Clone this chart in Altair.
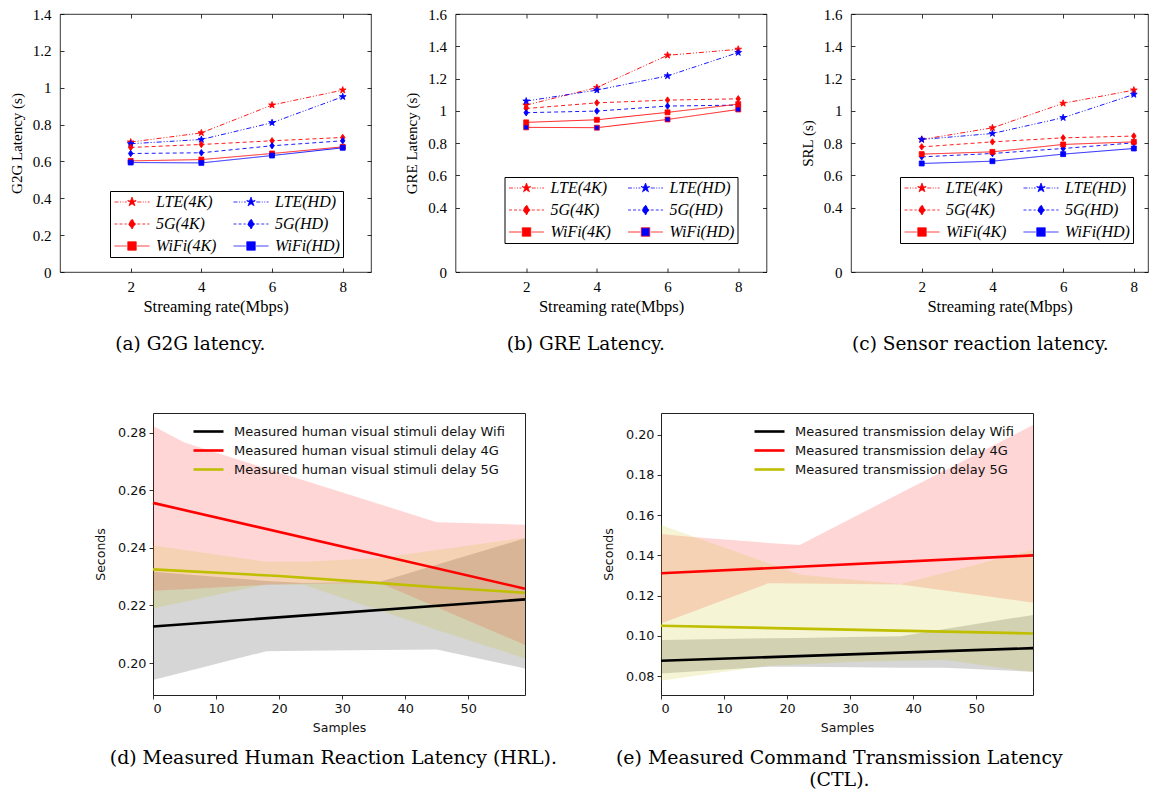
import altair as alt
import pandas as pd

# ---------------- data: top row (latency vs streaming rate) ----------------
rates = [2, 4, 6, 8]
series_names = ["LTE(4K)", "LTE(HD)", "5G(4K)", "5G(HD)", "WiFi(4K)", "WiFi(HD)"]
series_network = {"LTE(4K)": "LTE", "LTE(HD)": "LTE", "5G(4K)": "5G", "5G(HD)": "5G",
                  "WiFi(4K)": "WiFi", "WiFi(HD)": "WiFi"}
networks = ["LTE", "5G", "WiFi"]
# legend entries are filled column by column: 4K column first, HD column second
legend_order = ["LTE(4K)", "5G(4K)", "WiFi(4K)", "LTE(HD)", "5G(HD)", "WiFi(HD)"]

g2g_latency = {
    "LTE(4K)": [0.705, 0.755, 0.906, 0.987],
    "LTE(HD)": [0.696, 0.719, 0.810, 0.951],
    "5G(4K)": [0.676, 0.692, 0.712, 0.730],
    "5G(HD)": [0.643, 0.647, 0.685, 0.712],
    "WiFi(4K)": [0.603, 0.610, 0.643, 0.679],
    "WiFi(HD)": [0.594, 0.592, 0.632, 0.674],
}
gre_latency = {
    "LTE(4K)": [1.035, 1.144, 1.344, 1.381],
    "LTE(HD)": [1.060, 1.128, 1.216, 1.361],
    "5G(4K)": [1.014, 1.049, 1.066, 1.074],
    "5G(HD)": [0.988, 0.998, 1.029, 1.035],
    "WiFi(4K)": [0.928, 0.944, 0.990, 1.041],
    "WiFi(HD)": [0.897, 0.895, 0.946, 1.008],
}
srl_latency = {
    "LTE(4K)": [0.822, 0.894, 1.046, 1.128],
    "LTE(HD)": [0.822, 0.859, 0.957, 1.101],
    "5G(4K)": [0.776, 0.807, 0.832, 0.843],
    "5G(HD)": [0.714, 0.735, 0.766, 0.801],
    "WiFi(4K)": [0.731, 0.745, 0.791, 0.807],
    "WiFi(HD)": [0.673, 0.687, 0.731, 0.766],
}
yticks_a = [0, 0.2, 0.4, 0.6, 0.8, 1, 1.2, 1.4]
yticks_bc = [0, 0.4, 0.6, 0.8, 1, 1.2, 1.4, 1.6]

# ---------------- data: bottom row (measured delays vs samples) ----------------
band_keys = ["wifi", "4g", "5g"]
hrl_labels = ["Measured human visual stimuli delay Wifi",
              "Measured human visual stimuli delay 4G",
              "Measured human visual stimuli delay 5G"]
hrl_line_x = {"wifi": [0, 59], "4g": [0, 59], "5g": [0, 20, 35, 45, 59]}
hrl_line_y = {"wifi": [0.2127, 0.2221], "4g": [0.2556, 0.2258],
              "5g": [0.2325, 0.2302, 0.2279, 0.2263, 0.2244]}
hrl_band_x = [0, 5, 18, 24, 36, 45, 59]
hrl_wifi_lo = [0.1941, 0.1969, 0.2041, 0.2043, 0.2045, 0.2047, 0.1981]
hrl_wifi_hi = [0.2317, 0.2308, 0.2285, 0.2278, 0.2282, 0.2341, 0.2433]
hrl_4g_lo = [0.2251, 0.2256, 0.2272, 0.2275, 0.2278, 0.2194, 0.2063]
hrl_4g_hi = [0.2823, 0.2766, 0.2675, 0.2634, 0.2551, 0.2489, 0.2480]
hrl_5g_lo = [0.2190, 0.2213, 0.2273, 0.2271, 0.2182, 0.2115, 0.2016]
hrl_5g_hi = [0.2408, 0.2392, 0.2352, 0.2352, 0.2365, 0.2392, 0.2435]

ctl_labels = ["Measured transmission delay Wifi",
              "Measured transmission delay 4G",
              "Measured transmission delay 5G"]
ctl_line_x = {"wifi": [0, 59], "4g": [0, 59], "5g": [0, 59]}
ctl_line_y = {"wifi": [0.0876, 0.0939], "4g": [0.1311, 0.1400], "5g": [0.1050, 0.1012]}
ctl_band_x = [0, 5, 17, 22, 30, 38, 45, 59]
ctl_wifi_lo = [0.0813, 0.0823, 0.0846, 0.0846, 0.0844, 0.0842, 0.0841, 0.0822]
ctl_wifi_hi = [0.0979, 0.0982, 0.0988, 0.0990, 0.0994, 0.0998, 0.1034, 0.1104]
ctl_4g_lo = [0.1062, 0.1120, 0.1261, 0.1260, 0.1258, 0.1255, 0.1226, 0.1165]
ctl_4g_hi = [0.1506, 0.1492, 0.1462, 0.1452, 0.1581, 0.1710, 0.1822, 0.2048]
ctl_5g_lo = [0.0777, 0.0799, 0.0852, 0.0858, 0.0870, 0.0876, 0.0880, 0.0820]
ctl_5g_hi = [0.1551, 0.1495, 0.1361, 0.1305, 0.1280, 0.1258, 0.1314, 0.1427]

hrl_yticks = [0.20, 0.22, 0.24, 0.26, 0.28]
ctl_yticks = [0.08, 0.10, 0.12, 0.14, 0.16, 0.18, 0.20]
sample_ticks = [0, 10, 20, 30, 40, 50]

# ---------------- styles ----------------
STAR = ("M0,-1L0.235,-0.324L0.951,-0.309L0.38,0.124L0.588,0.809L0,0.4"
        "L-0.588,0.809L-0.38,0.124L-0.951,-0.309L-0.235,-0.324Z")
DIAMOND = "M0,-1L0.7,0L0,1L-0.7,0Z"
SQUARE = "M-0.85,-0.85L0.85,-0.85L0.85,0.85L-0.85,0.85Z"
STUBS = "M-3.5,0L-1.05,0M1.05,0L3.5,0"      # line pieces drawn next to legend markers
shape_of = {"LTE(4K)": STAR, "LTE(HD)": STAR, "5G(4K)": DIAMOND, "5G(HD)": DIAMOND,
            "WiFi(4K)": SQUARE, "WiFi(HD)": SQUARE}
dash_of = {"LTE(4K)": [4, 1.5, 1, 1.5, 1, 1.5], "LTE(HD)": [4, 1.5, 1, 1.5, 1, 1.5],
           "5G(4K)": [3, 2], "5G(HD)": [3, 2], "WiFi(4K)": [1, 0], "WiFi(HD)": [1, 0]}
line_dash_range = [[5, 2, 1, 2, 1, 2], [4, 3], [1, 0]]   # LTE, 5G, WiFi
size_range = [50, 34, 46]                                 # LTE, 5G, WiFi
RED, BLUE = "#ff0000", "#0000ff"
line_color_std = {"LTE(4K)": RED, "LTE(HD)": BLUE, "5G(4K)": RED, "5G(HD)": BLUE,
                  "WiFi(4K)": RED, "WiFi(HD)": BLUE}
line_color_b = dict(line_color_std, **{"WiFi(HD)": RED})
fill_color_std = dict(line_color_std)
band_colors = ["#000000", "#ff0000", "#bfbf00"]

SERIF = "Liberation Serif"
SANS = "DejaVu Sans"
CAPTION_FONT = "DejaVu Serif"
TOP_H = 258


def top_panel(values, ytitle, ymax, yticks, xmax, width, lx, ly, caption, cap_dx,
              line_color, fill_color):
    df = pd.DataFrame([{"rate": r, "latency": v, "series": s, "net": series_network[s]}
                       for s in series_names for r, v in zip(rates, values[s])])
    xscale = alt.Scale(domain=[0, xmax], nice=False, zero=False)
    yscale = alt.Scale(domain=[0, ymax], nice=False)
    # main axes: labels and titles only (the tick marks are drawn inside the frame)
    xenc = alt.X("rate:Q", scale=xscale,
                 axis=alt.Axis(values=rates, title="Streaming rate(Mbps)", grid=False,
                               domain=False, ticks=False, labelPadding=7, titlePadding=4,
                               labelFont=SERIF, labelFontSize=15, labelColor="black",
                               titleFont=SERIF, titleFontSize=16.5,
                               titleFontWeight="normal", titleColor="black"))
    yenc = alt.Y("latency:Q", scale=yscale,
                 axis=alt.Axis(values=yticks, format="~g", title=ytitle, grid=False,
                               domain=False, ticks=False, labelPadding=9, titlePadding=8,
                               labelFont=SERIF, labelFontSize=15, labelColor="black",
                               titleFont=SERIF, titleFontSize=15,
                               titleFontWeight="normal", titleColor="black"))
    xnone = alt.X("rate:Q", scale=xscale, axis=None)
    ynone = alt.Y("latency:Q", scale=yscale, axis=None)

    def inner_ticks(xorient, yorient):
        tick_style = dict(labels=False, title=None, grid=False, domain=False, ticks=True,
                          tickSize=4, tickColor="black", tickWidth=0.8)
        return alt.Chart(df).transform_filter("false").mark_point(opacity=0).encode(
            x=alt.X("rate:Q", scale=xscale,
                    axis=alt.Axis(values=rates, orient=xorient, offset=-TOP_H, **tick_style)),
            y=alt.Y("latency:Q", scale=yscale,
                    axis=alt.Axis(values=yticks, orient=yorient, offset=-width,
                                  **tick_style)),
        )

    ser_scale = lambda rng: alt.Scale(domain=legend_order, range=[rng[s] for s in legend_order])
    leg = alt.Legend(orient="none", legendX=lx, legendY=ly, columns=2, title=None,
                     strokeColor="black", fillColor="white", padding=3,
                     labelFont=SERIF, labelFontStyle="italic", labelFontSize=16,
                     labelColor="black", columnPadding=14, rowPadding=6,
                     symbolStrokeWidth=0.8, labelLimit=200, labelOffset=16,
                     symbolOffset=11)
    lines = alt.Chart(df).mark_line(strokeWidth=0.9).encode(
        x=xenc, y=yenc,
        stroke=alt.Stroke("series:N", scale=ser_scale(line_color), legend=None),
        strokeDash=alt.StrokeDash("net:N",
                                  scale=alt.Scale(domain=networks, range=line_dash_range),
                                  legend=None),
        detail="series:N",
    )
    pts = alt.Chart(df).mark_point(filled=True, opacity=1, strokeWidth=0.8).encode(
        x=xnone, y=ynone,
        shape=alt.Shape("series:N", scale=ser_scale(shape_of), legend=None),
        fill=alt.Fill("series:N", scale=ser_scale(fill_color), legend=None),
        stroke=alt.Stroke("series:N", scale=ser_scale(line_color), legend=None),
        size=alt.Size("net:N", scale=alt.Scale(domain=networks, range=size_range),
                      legend=None),
    )
    # legend-only layer (no rows drawn): marker with line pieces, like the original key
    key = alt.Chart(df).transform_filter("false").mark_point(
        filled=True, opacity=1, strokeWidth=0.8, size=55).encode(
        x=xnone, y=ynone,
        shape=alt.Shape("series:N",
                        scale=alt.Scale(domain=legend_order,
                                        range=[STUBS + shape_of[s] for s in legend_order]),
                        legend=leg),
        fill=alt.Fill("series:N", scale=ser_scale(fill_color), legend=leg),
        stroke=alt.Stroke("series:N", scale=ser_scale(line_color), legend=leg),
        strokeDash=alt.StrokeDash("series:N", scale=ser_scale(dash_of), legend=leg),
    )
    return alt.layer(
        lines, pts, key, inner_ticks("bottom", "left"), inner_ticks("top", "right")
    ).resolve_scale(
        shape="independent", fill="independent", stroke="independent",
        strokeDash="independent", size="independent",
    ).resolve_axis(x="independent", y="independent").properties(
        width=width, height=TOP_H,
        view=alt.ViewBackground(stroke="black", strokeWidth=0.8),
        title=alt.TitleParams(text=caption, orient="bottom", anchor="middle", offset=20,
                              frame="bounds", dx=cap_dx, font=CAPTION_FONT, fontSize=18.5,
                              fontWeight="normal", color="black"),
    )


def bottom_panel(labels, line_x, line_y, band_x, band_lo, band_hi, ydomain, yticks,
                 lx, ly, caption, dx):
    lab = dict(zip(band_keys, labels))
    line_df = pd.DataFrame([{"sample": xx, "delay": yy, "series": lab[k]}
                            for k in band_keys for xx, yy in zip(line_x[k], line_y[k])])
    band_df = pd.DataFrame([{"sample": xx, "lo": lo, "hi": hi, "band": k}
                            for k in band_keys
                            for xx, lo, hi in zip(band_x, band_lo[k], band_hi[k])])
    xscale = alt.Scale(domain=[0, 59], nice=False, zero=False)
    yscale = alt.Scale(domain=ydomain, nice=False, zero=False)
    xaxis = alt.Axis(values=sample_ticks, title="Samples", grid=False, domain=False,
                     tickSize=4, tickColor="black", tickWidth=0.8, labelPadding=3,
                     titlePadding=7, labelFont=SANS, labelFontSize=12.8, labelColor="#111",
                     titleFont=SANS, titleFontSize=12.5, titleFontWeight="normal",
                     titleColor="#111")
    yaxis = alt.Axis(values=yticks, format=".2f", title="Seconds", grid=False,
                     domain=False, tickSize=4, tickColor="black", tickWidth=0.8,
                     labelPadding=3, titlePadding=10, labelFont=SANS, labelFontSize=12.8,
                     labelColor="#111", titleFont=SANS, titleFontSize=12.5,
                     titleFontWeight="normal", titleColor="#111")
    bands = alt.Chart(band_df).mark_area(fillOpacity=0.16, strokeWidth=0).encode(
        x=alt.X("sample:Q", scale=xscale, axis=xaxis),
        y=alt.Y("lo:Q", scale=yscale, axis=yaxis, stack=None),
        y2="hi:Q",
        fill=alt.Fill("band:N", scale=alt.Scale(domain=band_keys, range=band_colors),
                      legend=None),
        detail="band:N",
    )
    leg = alt.Legend(orient="none", legendX=lx, legendY=ly, title=None,
                     symbolType="M-1.5,0L1.5,0", symbolSize=400, symbolStrokeWidth=2.6,
                     labelFont=SANS, labelFontSize=13, labelColor="#111",
                     rowPadding=0, padding=0, labelOffset=14, labelLimit=400)
    lines = alt.Chart(line_df).mark_line(strokeWidth=2.6).encode(
        x=alt.X("sample:Q", scale=xscale, axis=xaxis),
        y=alt.Y("delay:Q", scale=yscale, axis=yaxis),
        stroke=alt.Stroke("series:N", scale=alt.Scale(domain=labels, range=band_colors),
                          legend=leg),
        detail="series:N",
    )
    return alt.layer(bands, lines).properties(
        width=372, height=282,
        view=alt.ViewBackground(stroke="#222", strokeWidth=1),
        title=alt.TitleParams(text=caption, orient="bottom", anchor="middle", offset=15,
                              frame="bounds", dx=dx, font=CAPTION_FONT, fontSize=18.9,
                              fontWeight="normal", color="black", lineHeight=22),
    )


panel_a = top_panel(g2g_latency, "G2G Latency (s)", 1.4, yticks_a, 8.8, 311, 50, 177,
                    "(a) G2G latency.", 0, line_color_std, fill_color_std)
panel_b = top_panel(gre_latency, "GRE Latency (s)", 1.6, yticks_bc, 8.8, 311, 49, 163,
                    "(b) GRE Latency.", 0, line_color_b, fill_color_std)
panel_c = top_panel(srl_latency, "SRL (s)", 1.6, yticks_bc, 8.4, 297, 49, 163,
                    "(c) Sensor reaction latency.", 6, line_color_std, fill_color_std)

panel_d = bottom_panel(hrl_labels, hrl_line_x, hrl_line_y, hrl_band_x,
                       {"wifi": hrl_wifi_lo, "4g": hrl_4g_lo, "5g": hrl_5g_lo},
                       {"wifi": hrl_wifi_hi, "4g": hrl_4g_hi, "5g": hrl_5g_hi},
                       [0.1889, 0.2868], hrl_yticks, 44, 7,
                       "(d) Measured Human Reaction Latency (HRL).", 21)
panel_e = bottom_panel(ctl_labels, ctl_line_x, ctl_line_y, ctl_band_x,
                       {"wifi": ctl_wifi_lo, "4g": ctl_4g_lo, "5g": ctl_5g_lo},
                       {"wifi": ctl_wifi_hi, "4g": ctl_4g_hi, "5g": ctl_5g_hi},
                       [0.0706, 0.2108], ctl_yticks, 97, 7,
                       ["(e) Measured Command Transmission Latency", "(CTL)."], 19)

spacer_df = pd.DataFrame({"v": [0]})
spacer = alt.Chart(spacer_df).mark_point(opacity=0).encode(
    x=alt.X("v:Q", axis=None), y=alt.Y("v:Q", axis=None)
).properties(width=1, height=1, view=alt.ViewBackground(stroke="transparent"))

indep = dict(x="independent", y="independent", stroke="independent", fill="independent",
             shape="independent", size="independent", strokeDash="independent")

row1 = alt.hconcat(panel_a, panel_b, panel_c, spacing=84.5, bounds="flush").resolve_scale(**indep)
inner2 = alt.hconcat(panel_d, panel_e, spacing=136, bounds="flush").resolve_scale(**indep)
row2 = alt.hconcat(spacer, inner2, spacing=92, bounds="flush").resolve_scale(**indep)

chart = alt.vconcat(row1, row2, spacing=399, bounds="flush").resolve_scale(**indep).properties(
    padding={"left": 0, "top": -2, "right": 2, "bottom": 0},
    background="white",
)

chart.save("out.html", embed_options={"renderer": "svg", "actions": False})
